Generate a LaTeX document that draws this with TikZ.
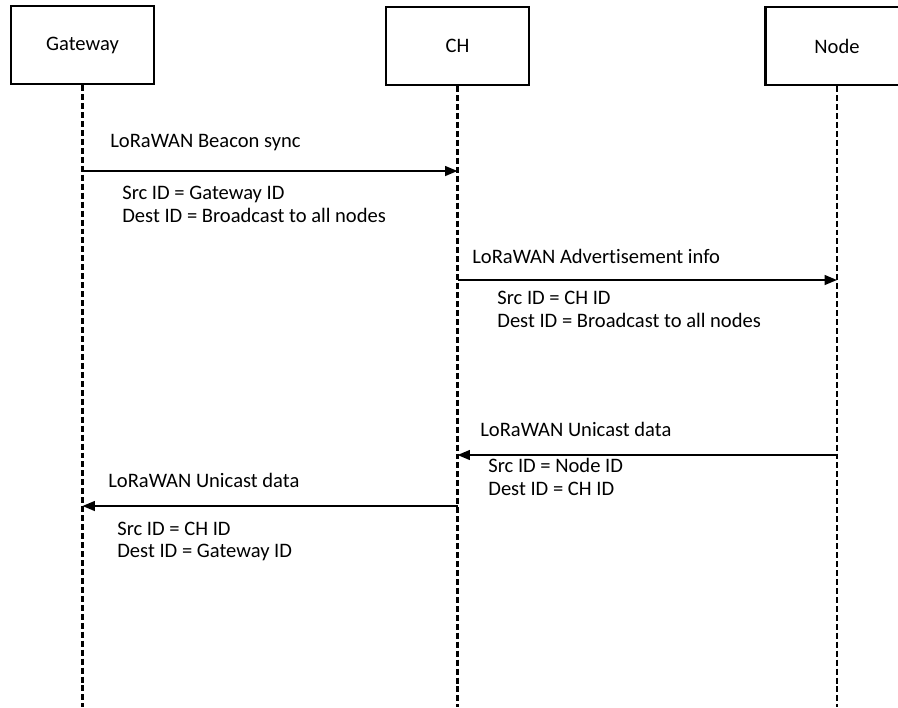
\documentclass[tikz,border=0pt]{standalone}
\usepackage{fontspec}
\setmainfont{Carlito}[Ligatures=NoCommon]
\usetikzlibrary{arrows.meta}
\newcommand{\txt}{\fontsize{11.7}{13}\selectfont}

\begin{document}
\begin{tikzpicture}[x=0.02cm,y=-0.02cm,
   actor/.style={draw, line width=1.3pt, minimum width=2.86cm, minimum height=1.56cm, font=\txt},
   life/.style={line width=1.4pt, dash pattern=on 3.4pt off 1.7pt},
   msg/.style={line width=1.1pt, -{Triangle[length=7pt,width=5.5pt]}},
   lbl/.style={anchor=west, inner sep=0pt, font=\txt, align=left}]
   \useasboundingbox (0,0) rectangle (898,707);
   \clip (0,0) rectangle (898,707);
   % actors
   \node[actor] (gw) at ( 82.5,45) {Gateway};
   \node[actor] (ch) at (457.5,46) {CH};
   \node[actor] (nd) at (837,46) {Node};
   % lifelines
   \coordinate (gwEnd) at ( 82.5,707);
   \coordinate (chEnd) at (457.5,707);
   \coordinate (ndEnd) at (837,707);
   \draw[life] (gw.south) -- (gwEnd);
   \draw[life] (ch.south) -- (chEnd);
   \draw[life] (nd.south) -- (ndEnd);
   % message end points
   \coordinate (gw1) at ( 82.5,171);
   \coordinate (ch1) at (457.5,171);
   \coordinate (ch2) at (457.5,280);
   \coordinate (nd2) at (837,280);
   \coordinate (nd3) at (837,455);
   \coordinate (ch3) at (457.5,455);
   \coordinate (ch4) at (457.5,506);
   \coordinate (gw4) at ( 82.5,506);
   % messages
   \draw[msg] (gw1) -- (ch1);
   \draw[msg] (ch2) -- (nd2);
   \draw[msg] (nd3) -- (ch3);
   \draw[msg] (ch4) -- (gw4);
   % labels
   \node[lbl] (t1) at (110,143) {LoRaWAN Beacon sync};
   \node[lbl] (s1) at (122,204.5) {Src ID = Gateway ID\\Dest ID = Broadcast to all nodes};
   \node[lbl] (t2) at (472,256) {LoRaWAN Advertisement info};
   \node[lbl] (s2) at (497,309) {Src ID = CH ID\\Dest ID = Broadcast to all nodes};
   \node[lbl] (t3) at (480,429) {LoRaWAN Unicast data};
   \node[lbl] (s3) at (488,477) {Src ID = Node ID\\Dest ID = CH ID};
   \node[lbl] (t4) at (108,480) {LoRaWAN Unicast data};
   \node[lbl] (s4) at (117,541.5) {Src ID = CH ID\\Dest ID = Gateway ID};
\end{tikzpicture}
\end{document}
